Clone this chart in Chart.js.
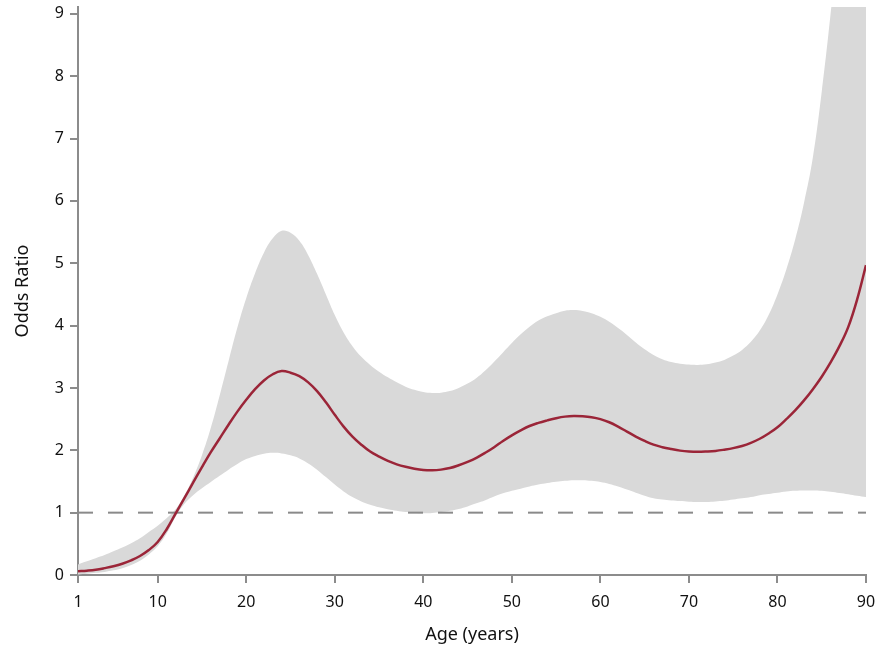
<!DOCTYPE html>
<html>
<head>
<meta charset="utf-8">
<script src="https://cdn.jsdelivr.net/npm/chart.js@4"></script>
<style>
  html, body { margin: 0; padding: 0; background: #fff; }
  #wrap { width: 880px; height: 650px; }
</style>
</head>
<body>
<div id="wrap"><canvas id="orChart" width="880" height="650"></canvas></div>
<script>
// values, one per year of age
var ages = [1,2,3,4,5,6,7,8,9,10,
    11,12,13,14,15,16,17,18,19,20,
    21,22,23,24,25,26,27,28,29,30,
    31,32,33,34,35,36,37,38,39,40,
    41,42,43,44,45,46,47,48,49,50,
    51,52,53,54,55,56,57,58,59,60,
    61,62,63,64,65,66,67,68,69,70,
    71,72,73,74,75,76,77,78,79,80,
    81,82,83,84,85,86,87,88,89,90];

var oddsRatio = [0.06,0.07,0.085,0.11,0.14,0.18,0.235,0.305,0.40,0.53,
    0.73,0.98,1.23,1.48,1.73,1.97,2.19,2.41,2.62,2.81,
    2.98,3.12,3.22,3.27,3.245,3.19,3.09,2.95,2.77,2.57,
    2.38,2.22,2.09,1.98,1.90,1.83,1.775,1.735,1.705,1.685,
    1.68,1.69,1.715,1.76,1.815,1.88,1.96,2.05,2.15,2.24,
    2.32,2.39,2.44,2.48,2.515,2.54,2.55,2.545,2.53,2.50,
    2.45,2.38,2.30,2.22,2.15,2.09,2.05,2.02,1.995,1.98,
    1.975,1.98,1.99,2.01,2.035,2.07,2.12,2.185,2.27,2.37,
    2.5,2.64,2.8,2.98,3.18,3.41,3.67,3.98,4.42,4.97];

var ciUpper = [0.17,0.22,0.27,0.32,0.38,0.44,0.51,0.59,0.69,0.79,
    0.91,1.05,1.27,1.56,1.92,2.36,2.88,3.43,3.97,4.44,
    4.84,5.17,5.40,5.52,5.49,5.36,5.13,4.83,4.5,4.17,
    3.89,3.67,3.5,3.37,3.26,3.17,3.09,3.02,2.97,2.935,
    2.92,2.925,2.95,3.0,3.07,3.16,3.28,3.42,3.57,3.72,
    3.86,3.98,4.08,4.15,4.2,4.24,4.25,4.235,4.2,4.14,
    4.06,3.96,3.85,3.73,3.62,3.53,3.46,3.415,3.39,3.375,
    3.37,3.38,3.41,3.45,3.52,3.61,3.74,3.92,4.17,4.5,
    4.9,5.38,5.97,6.7,7.75,9.0,10.4,12.0,13.8,15.8];

var ciLower = [0.01,0.02,0.035,0.05,0.075,0.11,0.16,0.23,0.33,0.46,
    0.66,0.93,1.14,1.28,1.39,1.49,1.59,1.69,1.78,1.86,
    1.91,1.945,1.96,1.95,1.92,1.87,1.79,1.69,1.57,1.45,
    1.34,1.25,1.18,1.125,1.085,1.055,1.03,1.01,1.0,0.99,
    0.995,1.01,1.03,1.06,1.1,1.15,1.2,1.26,1.31,1.35,
    1.385,1.42,1.45,1.475,1.495,1.51,1.52,1.52,1.51,1.49,
    1.46,1.42,1.37,1.32,1.27,1.23,1.21,1.195,1.185,1.175,
    1.17,1.17,1.18,1.19,1.21,1.23,1.25,1.28,1.3,1.32,
    1.34,1.35,1.355,1.355,1.35,1.335,1.315,1.295,1.27,1.25];

var xTicks = [1,10,20,30,40,50,60,70,80,90];
var yTicks = [0,1,2,3,4,5,6,7,8,9];
var refLevel = 1;

function pts(ys){
    return ages.map(function(a, i){ return {x: a, y: ys[i]}; });
}

var axisGrey = '#8c8c8c';
var textCol = '#111';
var font = 'Noto Sans';

new Chart(document.getElementById('orChart'), {
    type: 'line',
    data: {
        datasets: [
            {   // lower CI, only used as fill target
                data: pts(ciLower),
                borderWidth: 0,
                pointRadius: 0,
                fill: false,
                order: 3
            },
            {
                data: pts(ciUpper),
                borderWidth: 0,
                pointRadius: 0,
                backgroundColor: '#d9d9d9',
                fill: '-1',
                order: 2
            },
            {   // reference line at OR = 1
                data: [{x: ages[0], y: refLevel}, {x: ages[ages.length - 1], y: refLevel}],
                borderColor: '#8a8a8a',
                borderWidth: 2,
                borderDash: [15, 15],
                pointRadius: 0,
                tension: 0,
                fill: false,
                order: 1
            },
            {
                data: pts(oddsRatio),
                borderColor: '#9b2538',
                borderWidth: 2.5,
                pointRadius: 0,
                fill: false,
                order: 0
            }
        ]
    },
    options: {
        responsive: false,
        animation: false,
        elements: { line: { tension: 0.4 } },
        layout: { padding: { top: 7, right: 14, left: 0, bottom: 0 } },
        plugins: { legend: { display: false }, tooltip: { enabled: false } },
        scales: {
            x: {
                type: 'linear',
                min: 1,
                max: 90,
                afterBuildTicks: function(s){ s.ticks = xTicks.map(function(v){ return {value: v}; }); },
                afterFit: function(s){ s.height = 75; s.paddingLeft = 0; s.paddingRight = 0; },
                grid: { drawOnChartArea: false, drawTicks: true, tickLength: 8, color: axisGrey, lineWidth: 2 },
                border: { color: axisGrey, width: 2 },
                ticks: { color: textCol, font: { family: font, size: 16 }, padding: 10, maxRotation: 0, autoSkip: false },
                title: { display: true, text: 'Age (years)', color: textCol, font: { family: font, size: 18 }, padding: { top: 6 } }
            },
            y: {
                min: 0,
                max: 9.11,
                afterBuildTicks: function(s){ s.ticks = yTicks.map(function(v){ return {value: v}; }); },
                afterFit: function(s){ s.width = 78; s.paddingTop = 0; s.paddingBottom = 0; },
                grid: { drawOnChartArea: false, drawTicks: true, tickLength: 8, color: axisGrey, lineWidth: 2 },
                border: { color: axisGrey, width: 2 },
                ticks: { color: textCol, font: { family: font, size: 16 }, padding: 6 },
                title: { display: true, text: 'Odds Ratio', color: textCol, font: { family: font, size: 18 }, padding: { top: 12, bottom: 0 } }
            }
        }
    }
});
</script>
</body>
</html>
